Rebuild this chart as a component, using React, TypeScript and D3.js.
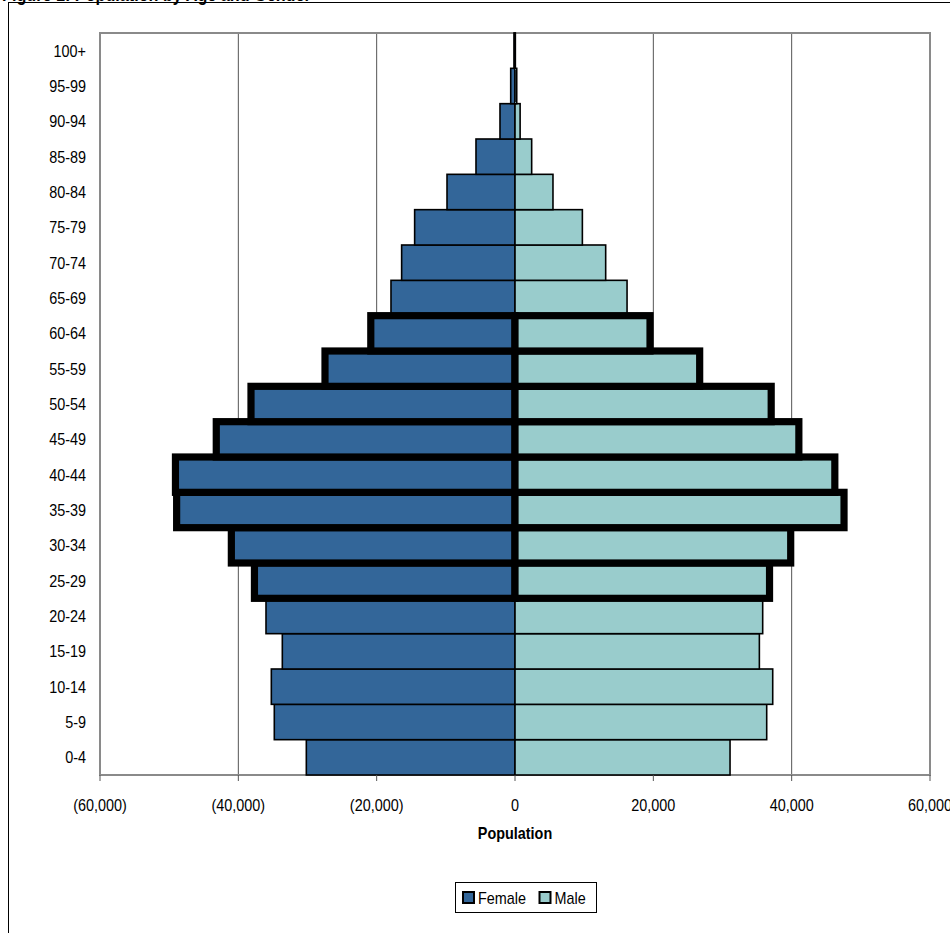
import React from 'react';
import * as d3 from 'd3';

const ageGroups = ['0-4','5-9','10-14','15-19','20-24','25-29','30-34','35-39','40-44','45-49','50-54','55-59','60-64','65-69','70-74','75-79','80-84','85-89','90-94','95-99','100+'];
const female = [30170, 34800, 35230, 33640, 36000, 37670, 41010, 48920, 49090, 43190, 38170, 27470, 20850, 17930, 16390, 14510, 9830, 5640, 2170, 620, 150];
const male = [31090, 36390, 37260, 35330, 35810, 36800, 39860, 47570, 46240, 41040, 37040, 26700, 19520, 16200, 13110, 9740, 5490, 2410, 740, 250, 50];
const highlighted = ['25-29','30-34','35-39','40-44','45-49','50-54','55-59','60-64'];
const xTicks = [-60000, -40000, -20000, 0, 20000, 40000, 60000];
const seriesNames = ['Female', 'Male'];
const seriesColors = ['#336699', '#99CCCC'];
const titleText = 'Figure 1: Population by Age and Gender';

const FONT = "'Liberation Sans', Arial, sans-serif";
const SX = 0.9;

function NText(props: { x: number; y: number; anchor?: string; size?: number; bold?: boolean; children: React.ReactNode }) {
  const { x, y, anchor = 'start', size = 16, bold = false, children } = props;
  return (
    <text
      transform={`translate(${x},${y}) scale(${SX},1)`}
      textAnchor={anchor as any}
      fontSize={size}
      fontWeight={bold ? 'bold' : 'normal'}
      fill="#000"
    >
      {children}
    </text>
  );
}

export default function App() {
  const W = 950, H = 933;
  const left = 100, right = 930, top = 33, bottom = 775;
  const x = d3.scaleLinear().domain([-60000, 60000]).range([left, right]);
  const y = d3.scaleBand<string>().domain([...ageGroups].reverse()).range([top, bottom]).padding(0);
  const fmt = d3.format(',');
  const tickLabel = (v: number) => (v < 0 ? `(${fmt(-v)})` : fmt(v));

  const bars: { key: string; x0: number; x1: number; y0: number; h: number; fill: string; thick: boolean }[] = [];
  ageGroups.forEach((g, i) => {
    const thick = highlighted.includes(g);
    bars.push({ key: 'f' + g, x0: x(-female[i]), x1: x(0), y0: y(g)!, h: y.bandwidth(), fill: seriesColors[0], thick });
    bars.push({ key: 'm' + g, x0: x(0), x1: x(male[i]), y0: y(g)!, h: y.bandwidth(), fill: seriesColors[1], thick });
  });
  const thinBars = bars.filter(b => !b.thick);
  const thickBars = bars.filter(b => b.thick);

  return (
    <svg width={W} height={H} style={{ position: 'absolute', left: 0, top: 0, background: '#fff' }} fontFamily={FONT}>
      <rect x={0} y={0} width={W} height={H} fill="#fff" />
      <NText x={2} y={1} size={18} bold>{titleText}</NText>
      <rect x={8.5} y={2.5} width={W + 20} height={H + 20} fill="none" stroke="#000" strokeWidth={1} />
      {/* gridlines */}
      {xTicks.filter(t => t !== -60000 && t !== 60000).map(t => (
        <line key={'g' + t} x1={x(t)} x2={x(t)} y1={top} y2={bottom} stroke="#555" strokeWidth={1} />
      ))}
      {/* plot border */}
      <rect x={left} y={top} width={right - left} height={bottom - top} fill="none" stroke="#8a8a8a" strokeWidth={2} />
      {/* bars */}
      {thinBars.map(b => (
        <rect key={b.key} x={b.x0} y={b.y0} width={b.x1 - b.x0} height={b.h} fill={b.fill} stroke="#000" strokeWidth={1.6} />
      ))}
      {thickBars.map(b => (
        <rect key={b.key} x={b.x0} y={b.y0} width={b.x1 - b.x0} height={b.h} fill={b.fill} stroke="#000" strokeWidth={7.2} />
      ))}
      {/* x axis ticks */}
      {xTicks.map(t => (
        <g key={'t' + t}>
          <line x1={x(t)} x2={x(t)} y1={bottom} y2={bottom + 6} stroke="#555" strokeWidth={1} />
          <NText x={x(t)} y={bottom + 36} anchor="middle">{tickLabel(t)}</NText>
        </g>
      ))}
      <NText x={x(0)} y={bottom + 64} anchor="middle" bold>Population</NText>
      {/* y labels */}
      {ageGroups.map(g => (
        <NText key={'y' + g} x={left - 14} y={y(g)! + y.bandwidth() / 2 + 6} anchor="end">{g}</NText>
      ))}
      {/* legend */}
      <g>
        <rect x={455.5} y={882.5} width={141} height={30} fill="#fff" stroke="#000" strokeWidth={1} />
        {seriesNames.map((n, i) => {
          const sx = i === 0 ? 462 : 538.5;
          return (
            <g key={n}>
              <rect x={sx + 1} y={892} width={11} height={11} fill={seriesColors[i]} stroke="#000" strokeWidth={2} />
              <NText x={sx + 16} y={904}>{n}</NText>
            </g>
          );
        })}
      </g>
    </svg>
  );
}
